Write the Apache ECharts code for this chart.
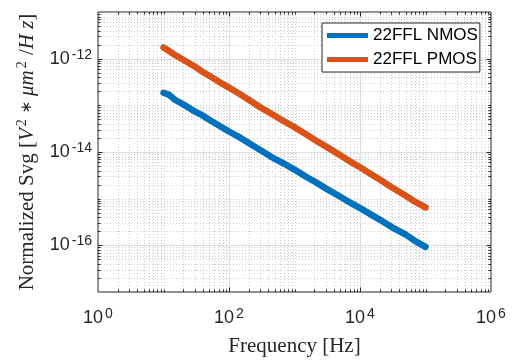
<!DOCTYPE html>
<html>
<head>
<meta charset="utf-8">
<script src="https://cdn.jsdelivr.net/npm/echarts@6/dist/echarts.min.js"></script>
<style>
  html, body { margin: 0; padding: 0; background: #ffffff; }
  #chart { width: 512px; height: 362px; }
</style>
</head>
<body>
<div id="chart"></div>
<script>
// Gate-referred noise spectra (normalized by gate area)
const freqHz = [10, 12, 15, 20, 30, 40, 50, 70, 100, 150, 200, 300, 500, 700,
  1000, 1500, 2000, 3000, 5000, 7000, 1e4, 1.5e4, 2e4, 3e4, 5e4, 7e4, 1e5];
const nmosSvg = [1.86e-13, 1.70e-13, 1.32e-13, 1.05e-13, 7.4e-14, 6.0e-14, 4.9e-14,
  3.7e-14, 2.75e-14, 2.0e-14, 1.55e-14, 1.10e-14, 7.1e-15, 5.6e-15, 4.2e-15,
  2.95e-15, 2.35e-15, 1.66e-15, 1.10e-15, 8.3e-16, 6.3e-16, 4.5e-16, 3.55e-16,
  2.5e-16, 1.70e-16, 1.23e-16, 9.3e-17];
const pmosSvg = [1.74e-12, 1.48e-12, 1.20e-12, 9.5e-13, 6.8e-13, 5.2e-13, 4.3e-13,
  3.2e-13, 2.4e-13, 1.70e-13, 1.32e-13, 9.1e-14, 6.0e-14, 4.5e-14, 3.4e-14,
  2.4e-14, 1.86e-14, 1.32e-14, 8.5e-15, 6.3e-15, 4.7e-15, 3.3e-15, 2.57e-15,
  1.78e-15, 1.15e-15, 8.5e-16, 6.5e-16];
const seriesNames = ['22FFL NMOS', '22FFL PMOS'];
const seriesColors = ['#0072BD', '#D95319'];

// Axis ranges (decades) and the decades that carry labels
const xDecades = [0, 6];
const yDecades = [-17, -11];
const xLabelDecades = [0, 2, 4, 6];
const yLabelDecades = [-16, -14, -12];

const X_MIN = Math.pow(10, xDecades[0]), X_MAX = Math.pow(10, xDecades[1]);
const Y_MIN = Math.pow(10, yDecades[0]), Y_MAX = Math.pow(10, yDecades[1]);

// Log-scale guide positions: m * 10^d for m = 1..9 inside each axis range
const guides = [];
function addGuides(dir, decades, labelDecades) {
  for (let d = decades[0]; d < decades[1]; d++) {
    for (let m = 1; m <= 9; m++) {
      if (d === decades[0] && m === 1) continue; // lies on the box edge
      const v = m * Math.pow(10, d);
      const major = m === 1 && labelDecades.indexOf(d) >= 0;
      guides.push({
        dir: dir,
        major: major,
        value: dir === 'x' ? [v, Y_MIN] : [X_MIN, v]
      });
    }
  }
}
addGuides('x', xDecades, xLabelDecades);
addGuides('y', yDecades, yLabelDecades);

const INK = '#262626';
const TICK_FONT = 'Liberation Sans, Arial, sans-serif';
const TITLE_FONT = 'Liberation Serif, Times New Roman, serif';

function renderGuide(params, api) {
  const g = guides[params.dataIndex];
  const cs = params.coordSys;
  const p = api.coord(g.value);
  const gridStyle = g.major
    ? { stroke: '#dedede', lineWidth: 1 }
    : { stroke: '#cdcdcd', lineWidth: 1, lineDash: [1, 2] };
  const tickStyle = { stroke: INK, lineWidth: 1 };
  const L = g.major ? 4.5 : 2.5;
  const children = [];
  if (g.dir === 'x') {
    const x = Math.round(p[0]) + 0.5;
    const y0 = cs.y, y1 = cs.y + cs.height;
    children.push({ type: 'line', shape: { x1: x, y1: y0, x2: x, y2: y1 }, style: gridStyle });
    children.push({ type: 'line', shape: { x1: x, y1: y1, x2: x, y2: y1 - L }, style: tickStyle });
    children.push({ type: 'line', shape: { x1: x, y1: y0, x2: x, y2: y0 + L }, style: tickStyle });
  } else {
    const y = Math.round(p[1]) + 0.5;
    const x0 = cs.x, x1 = cs.x + cs.width;
    children.push({ type: 'line', shape: { x1: x0, y1: y, x2: x1, y2: y }, style: gridStyle });
    children.push({ type: 'line', shape: { x1: x0, y1: y, x2: x0 + L, y2: y }, style: tickStyle });
    children.push({ type: 'line', shape: { x1: x1, y1: y, x2: x1 - L, y2: y }, style: tickStyle });
  }
  return { type: 'group', children: children };
}

// Power-of-ten labels with a raised exponent
function powerLabel(labelDecades) {
  return function (value) {
    const e = Math.round(Math.log10(value));
    if (labelDecades.indexOf(e) < 0) return '';
    return '{b|10}{s|' + String(e) + '}';
  };
}
const powerRich = {
  b: { fontFamily: TICK_FONT, fontSize: 18, color: INK, lineHeight: 22 },
  s: { fontFamily: TICK_FONT, fontSize: 14, color: INK, lineHeight: 10,
       verticalAlign: 'top', padding: [0, 0, 0, 2] }
};

const chart = echarts.init(document.getElementById('chart'), null, { renderer: 'canvas' });
chart.setOption({
  animation: false,
  backgroundColor: '#ffffff',
  grid: {
    left: 98, right: 21, top: 12, bottom: 66,
    show: true, borderColor: INK, borderWidth: 1, backgroundColor: 'transparent'
  },
  legend: {
    orient: 'vertical',
    left: 322, top: 23,
    padding: [4, 2, 4, 5],
    itemWidth: 41, itemHeight: 5, itemGap: 7,
    icon: 'rect',
    borderColor: INK, borderWidth: 1, backgroundColor: '#ffffff',
    textStyle: { fontFamily: TICK_FONT, fontSize: 17, color: '#000000' },
    data: seriesNames
  },
  xAxis: {
    type: 'log', logBase: 10, min: X_MIN, max: X_MAX, splitNumber: 6,
    axisLine: { show: false }, axisTick: { show: false }, splitLine: { show: false },
    axisLabel: { margin: 15, formatter: powerLabel(xLabelDecades), rich: powerRich },
    name: 'Frequency [Hz]', nameLocation: 'middle', nameGap: 44,
    nameTextStyle: { fontFamily: TITLE_FONT, fontSize: 21, color: INK }
  },
  yAxis: {
    type: 'log', logBase: 10, min: Y_MIN, max: Y_MAX, splitNumber: 6,
    axisLine: { show: false }, axisTick: { show: false }, splitLine: { show: false },
    axisLabel: { margin: 6, formatter: powerLabel(yLabelDecades), rich: powerRich },
    name: '{n|Normalized Svg [}{i|V}{s|2}{a| ∗ }{i|μm}{s|2}{n| /}{i|H z}{n|]}',
    nameLocation: 'middle', nameGap: 58,
    nameTextStyle: {
      color: INK,
      rich: {
        n: { fontFamily: TITLE_FONT, fontSize: 21, color: INK, lineHeight: 25 },
        i: { fontFamily: TITLE_FONT, fontSize: 21, fontStyle: 'italic', color: INK, lineHeight: 25 },
        a: { fontFamily: 'DejaVu Sans, sans-serif', fontSize: 15, color: INK, lineHeight: 25 },
        s: { fontFamily: TITLE_FONT, fontSize: 14, color: INK, lineHeight: 11,
             verticalAlign: 'top', padding: [0, 1, 0, 2] }
      }
    }
  },
  series: [
    {
      type: 'custom',
      silent: true,
      z: 1,
      clip: false,
      renderItem: renderGuide,
      data: guides.map(function (g) { return g.value; })
    },
    {
      name: seriesNames[0], type: 'line', z: 3,
      showSymbol: false, symbol: 'none',
      color: seriesColors[0],
      lineStyle: { width: 6.5, color: seriesColors[0], cap: 'round', join: 'round' },
      data: freqHz.map(function (f, i) { return [f, nmosSvg[i]]; })
    },
    {
      name: seriesNames[1], type: 'line', z: 3,
      showSymbol: false, symbol: 'none',
      color: seriesColors[1],
      lineStyle: { width: 6.5, color: seriesColors[1], cap: 'round', join: 'round' },
      data: freqHz.map(function (f, i) { return [f, pmosSvg[i]]; })
    }
  ]
});
</script>
</body>
</html>
